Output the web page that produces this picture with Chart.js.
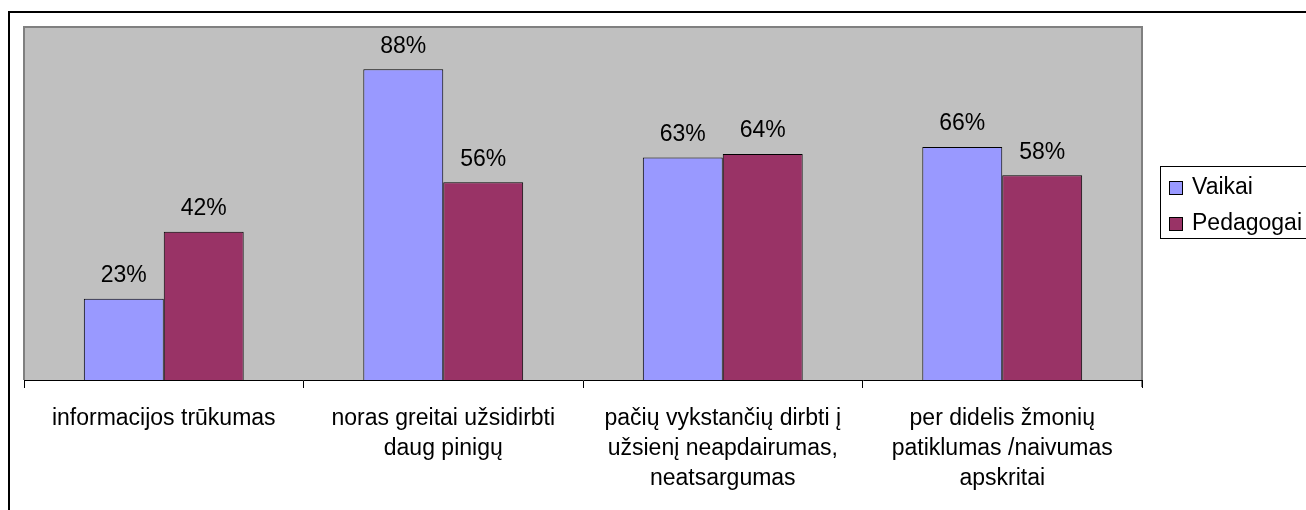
<!DOCTYPE html>
<html>
<head>
<meta charset="utf-8">
<script src="https://cdn.jsdelivr.net/npm/chart.js@4/dist/chart.umd.min.js"></script>
<style>
  html, body { margin: 0; padding: 0; background: #fff; }
  canvas { display: block; }
</style>
</head>
<body>
<canvas id="chart" width="1306" height="510"></canvas>
<script>
const categories = [
  ["informacijos trūkumas"],
  ["noras greitai užsidirbti", "daug pinigų"],
  ["pačių vykstančių dirbti į", "užsienį neapdairumas,", "neatsargumas"],
  ["per didelis žmonių", "patiklumas /naivumas", "apskritai"]
];
const seriesNames = ["Vaikai", "Pedagogai"];
const vaikai = [23, 88, 63, 66];
const pedagogai = [42, 56, 64, 58];

const FONT = "'Liberation Sans', Arial, sans-serif";

// grey plot area + outer frame
const background = {
  id: "background",
  beforeDraw(chart) {
    const ctx = chart.ctx;
    const a = chart.chartArea;
    ctx.save();
    ctx.fillStyle = "#fff";
    ctx.fillRect(0, 0, chart.width, chart.height);

    ctx.strokeStyle = "#000";
    ctx.lineWidth = 2;
    ctx.beginPath();
    ctx.moveTo(9, chart.height + 5);
    ctx.lineTo(9, 12);
    ctx.lineTo(chart.width + 5, 12);
    ctx.stroke();

    ctx.fillStyle = "#c0c0c0";
    ctx.fillRect(a.left, a.top, a.right - a.left, a.bottom - a.top);
    ctx.strokeStyle = "#808080";
    ctx.lineWidth = 2;
    ctx.beginPath();
    ctx.moveTo(a.left, a.bottom);
    ctx.lineTo(a.left, a.top);
    ctx.lineTo(a.right, a.top);
    ctx.lineTo(a.right, a.bottom + 7);
    ctx.stroke();
    ctx.restore();
  }
};

// percentage labels above bars
const valueLabels = {
  id: "valueLabels",
  afterDatasetsDraw(chart) {
    const ctx = chart.ctx;
    ctx.save();
    ctx.font = "23px " + FONT;
    ctx.fillStyle = "#000";
    ctx.textAlign = "center";
    ctx.textBaseline = "middle";
    chart.data.datasets.forEach((ds, i) => {
      chart.getDatasetMeta(i).data.forEach((bar, j) => {
        ctx.fillText(ds.data[j] + "%", bar.x, bar.y - 23);
      });
    });
    ctx.restore();
  }
};

// boxed legend on the right
const boxLegend = {
  id: "boxLegend",
  afterDraw(chart) {
    const ctx = chart.ctx;
    ctx.save();
    ctx.strokeStyle = "#000";
    ctx.lineWidth = 1;
    ctx.strokeRect(1160.5, 166.5, 200, 72);
    ctx.font = "23px " + FONT;
    ctx.textBaseline = "middle";
    chart.data.datasets.forEach((ds, i) => {
      const y = 188 + i * 36;
      ctx.fillStyle = ds.backgroundColor;
      ctx.fillRect(1169.5, y - 6.5, 13, 13);
      ctx.strokeRect(1169.5, y - 6.5, 13, 13);
      ctx.fillStyle = "#000";
      ctx.fillText(ds.label, 1192, y);
    });
    ctx.restore();
  }
};

new Chart(document.getElementById("chart"), {
  type: "bar",
  data: {
    labels: categories,
    datasets: [
      {
        label: seriesNames[0],
        data: vaikai,
        backgroundColor: "#9999ff",
        borderColor: "#000",
        borderWidth: 1
      },
      {
        label: seriesNames[1],
        data: pedagogai,
        backgroundColor: "#993366",
        borderColor: "#000",
        borderWidth: 1
      }
    ]
  },
  options: {
    responsive: false,
    animation: false,
    layout: { padding: { left: 24, top: 27, right: 164, bottom: 0 } },
    datasets: { bar: { categoryPercentage: 0.572, barPercentage: 1.0 } },
    plugins: {
      legend: { display: false },
      tooltip: { enabled: false }
    },
    scales: {
      x: {
        border: { display: true, color: "#000", width: 1 },
        grid: {
          offset: true,
          drawOnChartArea: false,
          drawTicks: true,
          tickLength: 8,
          color: "#000"
        },
        ticks: {
          color: "#000",
          maxRotation: 0,
          autoSkip: false,
          padding: 16,
          font: { family: FONT, size: 23, lineHeight: 30 / 23 }
        },
        afterFit(scale) { scale.height = 130; }
      },
      y: {
        display: false,
        min: 0,
        max: 100
      }
    }
  },
  plugins: [background, valueLabels, boxLegend]
});
</script>
</body>
</html>
